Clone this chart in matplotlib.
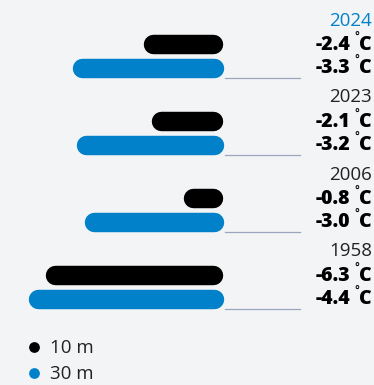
import matplotlib
matplotlib.use("Agg")
import matplotlib.pyplot as plt

# Temperature anomalies (°C) by year at two depths
years = ["2024", "2023", "2006", "1958"]
depth_10m = [-2.4, -2.1, -0.8, -6.3]
depth_30m = [-3.3, -3.2, -3.0, -4.4]
series_labels = ["10 m", "30 m"]

BG = "#f3f4f6"
BLACK = "#000000"
BLUE = "#0081c9"
RULE = "#9aa6bd"
TEXT = "#222222"
FONT = "Open Sans"

W, H = 374, 385
fig = plt.figure(figsize=(W / 100, H / 100), dpi=100, facecolor=BG)

# Each depth has its own horizontal scale; zero sits at the same pixel column.
ax10 = fig.add_axes([0, 0, 1, 1])
ax10.set_xlim(-213.5 / 25.1, (W - 213.5) / 25.1)
ax30 = fig.add_axes([0, 0, 1, 1])
ax30.set_xlim(-213.5 / 39.8, (W - 213.5) / 39.8)
# Overlay in pixel units for labels, rules and the key
axp = fig.add_axes([0, 0, 1, 1])
axp.set_xlim(0, W)

for ax in (ax10, ax30, axp):
    ax.set_ylim(H, 0)
    ax.axis("off")
    ax.patch.set_alpha(0)


def value_label(y, v):
    """Bold value with a raised degree ring before the C."""
    kw = dict(va="center", fontsize=14, family=FONT, fontweight="heavy",
              color=BLACK)
    axp.text(350, y, f"{v:.1f}", ha="right", **kw)
    axp.text(372, y, "C", ha="right", **kw)
    axp.text(357, y - 3, "\u02da", ha="center", va="center", fontsize=12,
             family=FONT, color=BLACK)


ROW0, STEP, GAP = 43.5, 77.0, 24.0
for i, (yr, v10, v30) in enumerate(zip(years, depth_10m, depth_30m)):
    y10 = ROW0 + STEP * i
    y30 = y10 + GAP
    ax10.plot([0, v10], [y10, y10], color=BLACK, lw=14,
              solid_capstyle="round")
    ax30.plot([0, v30], [y30, y30], color=BLUE, lw=14,
              solid_capstyle="round")
    axp.plot([225, 300], [y30 + 10, y30 + 10], color=RULE, lw=0.9)

    axp.text(372, y10 - 23, yr, ha="right", va="center", fontsize=13.5,
             family=FONT, color=BLUE if i == 0 else TEXT)
    value_label(y10 + 1.5, v10)
    value_label(y30 + 0.5, v30)

# Key
for j, (lab, col) in enumerate(zip(series_labels, [BLACK, BLUE])):
    yk = 347 + 26 * j
    axp.scatter([34.5], [yk], s=60, color=col, linewidths=0)
    axp.text(50, yk + 1, lab, ha="left", va="center", fontsize=13.5,
             family=FONT, color=TEXT)

fig.savefig("out.png", dpi=100, facecolor=BG)
